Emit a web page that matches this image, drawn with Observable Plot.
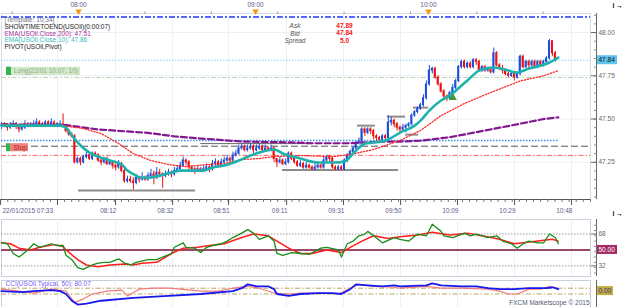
<!DOCTYPE html>
<html><head><meta charset="utf-8">
<script src="https://cdn.jsdelivr.net/npm/d3@7"></script>
<script src="https://cdn.jsdelivr.net/npm/@observablehq/plot@0.6"></script>
<style>
body{margin:0;background:#fff;}
#wrap{position:relative;width:625px;height:307px;overflow:hidden;background:#fff;}
#wrap > div{position:absolute;left:0;}
svg{display:block;}
</style></head>
<body><div id="wrap"><div id="main" style="top:0"></div><div id="osc" style="top:218px"></div><div id="cci" style="top:279px"></div></div>
<script>
// ---------- scales / ticks ----------
const xDomain = [0, 201];
const priceDomain = [47.035, 48.11];
const oscDomain = [20, 84.4];
const cciDomain = [-567, 367];

const bottomTicks = [-0.3, 19.1, 38.9, 58.4, 77.5, 97.3, 116.7, 136.2, 155.6, 175.1, 194.5];
const bottomLabels = ["22/01/2015 07:33", "", "08:12", "08:32", "08:51", "09:11", "09:31", "09:50", "10:09", "10:29", "10:48"];
const topTicks = [26.3, 86.7, 145.7];
const topLabels = ["08:00", "09:00", "10:00"];
const priceTicks = [47.25, 47.5, 47.75, 48.0];

// ---------- candles (1 minute) ----------
const firstOpen = 47.46;
const closes = [
 47.46,47.47,47.45,47.46,47.47,47.46,47.44,47.45,47.47,47.46,
 47.46,47.47,47.48,47.47,47.46,47.48,47.47,47.48,47.46,47.47,
 47.47,47.46,47.43,47.41,47.40,47.25,47.27,47.25,47.28,47.29,
 47.27,47.30,47.29,47.26,47.25,47.27,47.24,47.25,47.23,47.22,
 47.24,47.20,47.14,47.15,47.14,47.13,47.16,47.15,47.16,47.15,
 47.17,47.18,47.16,47.19,47.18,47.17,47.18,47.19,47.18,47.20,
 47.21,47.23,47.26,47.25,47.22,47.21,47.20,47.21,47.20,47.21,
 47.22,47.21,47.24,47.25,47.23,47.25,47.26,47.27,47.26,47.29,
 47.30,47.33,47.34,47.32,47.33,47.34,47.32,47.33,47.34,47.32,
 47.33,47.32,47.33,47.27,47.25,47.26,47.24,47.25,47.30,47.27,
 47.25,47.23,47.24,47.22,47.23,47.22,47.21,47.22,47.23,47.22,
 47.26,47.28,47.27,47.22,47.21,47.22,47.21,47.26,47.29,47.31,
 47.33,47.36,47.37,47.44,47.42,47.44,47.43,47.40,47.39,47.38,
 47.40,47.39,47.48,47.49,47.47,47.45,47.44,47.45,47.46,47.47,
 47.52,47.54,47.56,47.58,47.62,47.70,47.78,47.79,47.74,47.70,
 47.66,47.63,47.62,47.65,47.68,47.72,47.80,47.83,47.80,47.82,
 47.80,47.84,47.83,47.78,47.80,47.78,47.79,47.77,47.88,47.81,
 47.79,47.78,47.76,47.75,47.76,47.74,47.76,47.86,47.80,47.83,
 47.81,47.83,47.80,47.83,47.81,47.83,47.85,47.95,47.88,47.84];
const highs = [
 47.48,47.48,47.47,47.48,47.49,47.48,47.47,47.47,47.49,47.48,
 47.48,47.49,47.50,47.49,47.48,47.49,47.49,47.50,47.49,47.48,
 47.49,47.53,47.47,47.44,47.42,47.41,47.28,47.28,47.29,47.31,
 47.30,47.31,47.31,47.30,47.27,47.28,47.28,47.26,47.26,47.24,
 47.26,47.25,47.21,47.17,47.17,47.16,47.18,47.17,47.19,47.17,
 47.19,47.21,47.20,47.22,47.21,47.19,47.20,47.21,47.20,47.22,
 47.23,47.25,47.28,47.27,47.26,47.23,47.22,47.23,47.22,47.23,
 47.24,47.23,47.26,47.27,47.26,47.27,47.28,47.29,47.28,47.31,
 47.32,47.35,47.36,47.35,47.35,47.36,47.35,47.35,47.36,47.35,
 47.35,47.34,47.35,47.34,47.27,47.28,47.27,47.27,47.31,47.31,
 47.28,47.26,47.26,47.25,47.25,47.24,47.23,47.24,47.25,47.24,
 47.28,47.29,47.29,47.28,47.23,47.23,47.23,47.27,47.30,47.32,
 47.34,47.37,47.39,47.45,47.45,47.45,47.45,47.44,47.41,47.40,
 47.41,47.41,47.52,47.51,47.50,47.48,47.46,47.47,47.47,47.48,
 47.53,47.55,47.57,47.59,47.64,47.72,47.81,47.80,47.80,47.75,
 47.71,47.67,47.64,47.66,47.70,47.73,47.81,47.84,47.84,47.83,
 47.83,47.85,47.85,47.84,47.81,47.81,47.80,47.80,47.91,47.89,
 47.82,47.81,47.79,47.77,47.77,47.77,47.77,47.87,47.87,47.84,
 47.84,47.84,47.84,47.84,47.84,47.84,47.86,47.96,47.95,47.89];
const lows = [
 47.44,47.45,47.43,47.44,47.45,47.44,47.42,47.43,47.44,47.45,
 47.45,47.45,47.46,47.46,47.45,47.45,47.46,47.46,47.45,47.45,
 47.46,47.45,47.42,47.40,47.39,47.24,47.24,47.23,47.24,47.27,
 47.26,47.26,47.28,47.25,47.23,47.24,47.23,47.23,47.21,47.20,
 47.21,47.19,47.13,47.13,47.13,47.09,47.12,47.13,47.14,47.14,
 47.14,47.15,47.12,47.15,47.16,47.10,47.16,47.17,47.16,47.17,
 47.19,47.20,47.22,47.23,47.20,47.19,47.18,47.19,47.19,47.19,
 47.20,47.19,47.20,47.22,47.22,47.22,47.24,47.25,47.24,47.25,
 47.28,47.29,47.32,47.31,47.31,47.32,47.30,47.31,47.32,47.31,
 47.31,47.31,47.31,47.25,47.22,47.24,47.23,47.23,47.24,47.26,
 47.24,47.22,47.22,47.21,47.21,47.21,47.20,47.20,47.21,47.21,
 47.21,47.25,47.25,47.21,47.20,47.20,47.20,47.20,47.25,47.28,
 47.30,47.32,47.35,47.36,47.40,47.41,47.41,47.38,47.37,47.36,
 47.37,47.37,47.38,47.46,47.45,47.43,47.42,47.43,47.42,47.45,
 47.46,47.51,47.53,47.55,47.57,47.61,47.69,47.76,47.73,47.69,
 47.65,47.61,47.60,47.61,47.64,47.67,47.71,47.79,47.79,47.79,
 47.79,47.79,47.81,47.77,47.77,47.77,47.77,47.76,47.76,47.80,
 47.78,47.76,47.75,47.74,47.74,47.72,47.73,47.75,47.79,47.79,
 47.79,47.80,47.79,47.79,47.80,47.80,47.82,47.84,47.86,47.83];

// ---------- overlays: [minute index, price] ----------
const ema10 = [[0,47.462],[20,47.462],[22,47.451],[24,47.405],[27,47.347],[30,47.306],[34,47.277],[37,47.26],[41,47.237],[43,47.202],[46,47.173],[47,47.162],[51,47.162],[54,47.173],[58,47.191],[61,47.202],[66,47.202],[69,47.202],[72,47.22],[76,47.231],[81,47.26],[85,47.289],[88,47.306],[93,47.324],[96,47.301],[102,47.272],[108,47.249],[113,47.249],[117,47.254],[120,47.301],[124,47.358],[127,47.364],[132,47.382],[136,47.422],[141,47.462],[143,47.491],[146,47.549],[150,47.607],[153,47.636],[157,47.694],[159,47.723],[163,47.78],[168,47.798],[173,47.78],[176,47.769],[180,47.792],[184,47.809],[187,47.827],[190,47.855]];
const ema200 = [[0,47.47],[22,47.465],[33,47.44],[50,47.42],[59,47.40],[70,47.385],[82,47.37],[99,47.365],[106,47.36],[119,47.36],[130,47.37],[136,47.37],[143,47.375],[153,47.395],[170,47.45],[185,47.50],[190,47.51]];
const emaRed = [[0,47.47],[21,47.462],[28,47.445],[34,47.416],[40,47.358],[45,47.30],[51,47.26],[57,47.237],[63,47.225],[70,47.237],[76,47.243],[82,47.266],[88,47.272],[93,47.283],[102,47.289],[113,47.283],[119,47.295],[127,47.324],[136,47.376],[143,47.434],[150,47.52],[158,47.59],[165,47.64],[177,47.72],[185,47.75],[190,47.78]];

// horizontal levels
const levelTop = 48.09, levelPrice = 47.84, levelLong = 47.74, levelBlue = 47.376, levelPivot = 47.343, levelStop = 47.29;
const blueEnd = 190;
// grey support / resistance segments
const segStart = [26.3, 95.9, 121.5, 131.7, 137.9, 140.6, 68.0];
const segEnd   = [66.2, 135.5, 127.6, 137.9, 142.3, 145.8, 105.5];
const segPrice = [47.087, 47.206, 47.462, 47.514, 47.41, 47.566, 47.358];
const longMarker = [[154, 47.624]];

// ---------- oscillator (two lines) ----------
const oscFast = [[0,58],[2,57],[4,46],[6,42],[9,50],[11,57],[13,53],[17,57],[19,55],[21,55],[22,44],[24,39],[26,30],[28,28],[29,30],[31,33],[33,35],[35,36],[37,36],[40,40],[42,35],[44,33],[46,36],[50,39],[53,39],[55,42],[58,46],[59,53],[62,58],[63,53],[66,52],[68,47],[70,53],[72,55],[75,57],[77,60],[79,64],[82,69],[84,73],[86,69],[88,62],[91,66],[93,60],[94,46],[96,44],[99,47],[102,46],[105,45],[109,52],[111,53],[115,50],[116,42],[118,57],[120,60],[122,66],[124,68],[125,71],[127,66],[130,58],[134,64],[136,62],[139,60],[142,68],[145,66],[147,79],[150,71],[151,66],[154,64],[158,69],[160,66],[162,68],[166,64],[169,66],[171,60],[174,57],[176,52],[178,57],[180,60],[183,58],[185,58],[187,68],[189,64],[190,57]];
const oscSlow = [[0,58],[3,57],[6,52],[10,50],[13,53],[18,56],[21,54],[22,50],[26,39],[29,33],[33,31],[37,33],[42,34],[45,33],[48,35],[53,36],[58,46],[62,52],[67,53],[71,55],[76,57],[82,64],[86,68],[91,66],[94,60],[98,52],[102,46],[106,46],[111,50],[116,47],[119,53],[123,60],[127,66],[132,63],[136,65],[142,67],[147,70],[153,67],[159,69],[164,66],[170,62],[175,57],[178,58],[183,60],[188,62],[190,60]];

// ---------- CCI ----------
const cciMain = [[0,0],[7,-33],[11,0],[17,33],[20,0],[22,-100],[24,-333],[26,-467],[29,-433],[34,-333],[45,-233],[57,-167],[68,-100],[79,0],[82,100],[84,233],[87,167],[91,167],[93,67],[94,-100],[98,-167],[102,-100],[108,-67],[113,-67],[116,-100],[119,67],[121,233],[125,200],[130,167],[134,200],[136,167],[145,200],[147,267],[150,200],[157,167],[162,167],[166,100],[170,67],[175,67],[180,100],[186,100],[188,133],[190,67]];
const cciFast = [[0,67],[6,0],[11,-67],[17,67],[22,0],[25,-400],[28,-267],[31,-100],[36,0],[41,33],[43,-167],[47,67],[52,100],[57,100],[61,67],[68,0],[74,0],[79,100],[84,167],[88,100],[93,-67],[98,-100],[102,-67],[109,-67],[115,-100],[119,100],[122,233],[127,167],[134,133],[136,100],[145,167],[150,100],[157,100],[166,67],[170,0],[173,-100],[176,-100],[180,67],[184,67],[187,167],[190,100]];

// ---------- texts ----------
const legendLines = ["[Template: 10;34]", "SHOWTIMETOEND(USOil)(0:00:07)", "EMA(USOil.Close,200): 47.51", "EMA(USOil.Close,10): 47.86", "PIVOT(USOil,Pivot)"];
const legendColors = ["#6f6f80", "#1c1c1c", "#a8309a", "#35bcc0", "#1c1c1c"];
const quoteLabels = ["Ask", "Bid", "Spread"];
const quoteValues = ["47.89", "47.84", "5.0"];
const oscLevels = [68, 50, 32];
const cciLevels = [100, -100];

// ---------- build ----------
const up = "#1f4ed8", down = "#ec1212";
const candles = closes.map((c, i) => ({i, open: i ? closes[i - 1] : firstOpen, close: c, high: highs[i], low: lows[i]}));
const cColor = d => d.close >= d.open ? up : down;
const font = {fontFamily: "'Liberation Sans', Arial, sans-serif", fontSize: "6.5px", background: "#fff", overflow: "visible"};
const subTicks = (ticks, n) => { const s = ticks[1] - ticks[0]; const out = []; for (let t = ticks[0] - 3 * s; t <= xDomain[1]; t += s / n) if (t >= xDomain[0]) out.push(t); return out; };
const minorBottom = subTicks(bottomTicks, 8);
const minorTop = subTicks(topTicks, 8 / 3);
const minorPrice = d3.range(47.05, 48.11, 0.05);
const bottomFirst = bottomLabels.slice(0, 1), bottomRest = bottomLabels.slice(1);

const main = Plot.plot({
  width: 625, height: 218, marginLeft: 1, marginRight: 35, marginTop: 13, marginBottom: 19,
  x: {domain: xDomain, axis: null},
  y: {domain: priceDomain, axis: null},
  style: font,
  marks: [
    Plot.frame({stroke: "#d6dce6"}),
    Plot.ruleX(bottomTicks.slice(1), {stroke: "#eceff5"}),
    Plot.ruleY(priceTicks, {stroke: "#eceff5"}),
    // level lines
    Plot.ruleY([levelTop], {stroke: "#1b37ff", strokeWidth: 1.6, strokeDasharray: "6,2,2,2"}),
    Plot.ruleY([levelPrice], {stroke: "#7fd6f2", strokeWidth: 1, strokeDasharray: "1.5,1.5"}),
    Plot.ruleY([levelLong], {stroke: "#b9d7ae", strokeWidth: 1, strokeDasharray: "5,2,1.5,2"}),
    Plot.ruleY([levelBlue], {x1: () => xDomain[0], x2: () => blueEnd, stroke: "#3d8fe8", strokeWidth: 1.4, strokeDasharray: "1.5,1.5"}),
    Plot.ruleY([levelPivot], {stroke: "#555", strokeWidth: 1, strokeDasharray: "7,3"}),
    Plot.ruleY([levelStop], {stroke: "#ff6060", strokeWidth: 1, strokeDasharray: "5,2,1.5,2"}),
    // grey segments
    Plot.ruleY(segPrice, {x1: (d, i) => segStart[i], x2: (d, i) => segEnd[i], stroke: (d, i) => i === 6 ? "#666" : "#8c8c8c", strokeWidth: (d, i) => i === 6 ? 1 : 2}),
    // candles
    Plot.ruleX(candles, {x: "i", y1: "low", y2: "high", stroke: cColor, strokeWidth: 1}),
    Plot.rect(candles, {x1: "i", x2: "i", y1: "open", y2: "close", insetLeft: -1, insetRight: -1, insetTop: -0.5, insetBottom: -0.5, fill: cColor}),
    // moving averages
    Plot.line(ema200, {x: d => d[0], y: d => d[1], stroke: "#82178f", strokeWidth: 2.2, strokeDasharray: "6,3"}),
    Plot.line(emaRed, {x: d => d[0], y: d => d[1], stroke: "#ff2b2b", strokeWidth: 1.3, strokeDasharray: "1.3,1.7"}),
    Plot.line(ema10, {x: d => d[0], y: d => d[1], stroke: "#1db3ac", strokeWidth: 2.6, curve: "monotone-x"}),
    Plot.dot(longMarker, {x: d => d[0], y: d => d[1], symbol: "triangle", r: 3, fill: "#3d9b3a"}),
    // left labels (Long / Stop)
    Plot.rect([levelLong], {x1: () => xDomain[0], x2: () => xDomain[0], y1: d => d, y2: d => d, insetLeft: 10, insetRight: -79, insetTop: -10.3, insetBottom: 2, fill: "#d3e9cb"}),
    Plot.rect([levelLong], {x1: () => xDomain[0], x2: () => xDomain[0], y1: d => d, y2: d => d, insetLeft: 5, insetRight: -10, insetTop: -10.3, insetBottom: 2, fill: "#35b44a"}),
    Plot.text(["Long(22/01 10:07, 10)"], {x: () => xDomain[0], y: () => levelLong, dx: 12.5, dy: -6.2, textAnchor: "start", fill: "#93ae88"}),
    Plot.rect([levelStop], {x1: () => xDomain[0], x2: () => xDomain[0], y1: d => d, y2: d => d, insetLeft: 9, insetRight: -27, insetTop: -11.7, insetBottom: 3.7, fill: "#f08282"}),
    Plot.rect([levelStop], {x1: () => xDomain[0], x2: () => xDomain[0], y1: d => d, y2: d => d, insetLeft: 5, insetRight: -9, insetTop: -11.7, insetBottom: 3.7, fill: "#35b44a"}),
    Plot.text(["Stop"], {x: () => xDomain[0], y: () => levelStop, dx: 12, dy: -7.7, textAnchor: "start", fill: "#b02020"}),
    // legend
    ...legendLines.map((t, k) => Plot.text([t], {frameAnchor: "top-left", dx: 3, dy: 6.5 + k * 6.8, textAnchor: "start", lineAnchor: "middle", fill: legendColors[k]})),
    ...quoteLabels.map((t, k) => Plot.text([t], {frameAnchor: "top-left", dx: 293.5, dy: 12.5 + k * 7.5, textAnchor: "middle", lineAnchor: "middle", fill: "#555", fontStyle: "italic"})),
    ...quoteValues.map((t, k) => Plot.text([t], {frameAnchor: "top-left", dx: 343, dy: 12.3 + k * 7.5, textAnchor: "middle", lineAnchor: "middle", fill: "#ff1010", fontWeight: "bold"})),
    // top axis
    Plot.axisX({anchor: "top", ticks: minorTop, tickSize: 2.5, tickFormat: () => "", stroke: "#999"}),
    Plot.axisX({anchor: "top", ticks: topTicks, tickSize: 4, tickFormat: () => "", stroke: "#777"}),
    Plot.text(topLabels, {x: (d, i) => topTicks[i], frameAnchor: "top", dy: -8.5, lineAnchor: "middle", fill: "#5d5d8c"}),
    Plot.dot(topTicks, {x: d => d, frameAnchor: "top", dy: -2.2, symbol: "triangle", rotate: 180, r: 2.4, fill: "#f29b0c"}),
    // bottom axis
    Plot.ruleY([priceDomain[0]], {stroke: "#555"}),
    Plot.axisX({anchor: "bottom", ticks: minorBottom, tickSize: 3, tickFormat: () => "", stroke: "#777"}),
    Plot.axisX({anchor: "bottom", ticks: bottomTicks, tickSize: 6, tickFormat: () => "", stroke: "#555"}),
    Plot.text(bottomFirst, {x: () => xDomain[0], frameAnchor: "bottom", dy: 13, dx: 1, textAnchor: "start", fill: "#5d5d8c"}),
    Plot.text(bottomRest, {x: (d, i) => bottomTicks[i + 1], frameAnchor: "bottom", dy: 13, dx: 1, textAnchor: "end", fill: "#5d5d8c"}),
    // right price axis
    Plot.ruleX([xDomain[1]], {dx: 6, stroke: "#666"}),
    Plot.axisY({anchor: "right", ticks: minorPrice, tickSize: 3, dx: 3, tickFormat: () => "", stroke: "#888", label: null}),
    Plot.axisY({anchor: "right", ticks: priceTicks, tickSize: 6, tickFormat: () => "", stroke: "#666", label: null}),
    Plot.text(priceTicks, {x: () => xDomain[1], y: d => d, text: d => d.toFixed(2), dx: 8, textAnchor: "start", fill: "#666"}),
    Plot.rect([levelPrice], {x1: () => xDomain[1], x2: () => xDomain[1], y1: d => d, y2: d => d, insetLeft: 7, insetRight: -27, insetTop: -4.5, insetBottom: -4.5, fill: "#5ec4f0"}),
    Plot.text([levelPrice], {x: () => xDomain[1], y: d => d, text: d => d.toFixed(2), dx: 8, textAnchor: "start", fill: "#111"})
  ]
});
document.getElementById("main").append(main);

const osc = Plot.plot({
  width: 625, height: 59, marginLeft: 1, marginRight: 35, marginTop: 1, marginBottom: 1,
  x: {domain: xDomain, axis: null},
  y: {domain: oscDomain, axis: null},
  style: font,
  marks: [
    Plot.frame({stroke: "#c8d0dc"}),
    Plot.ruleX(bottomTicks.slice(1), {stroke: "#eceff5"}),
    Plot.ruleY([oscLevels[0], oscLevels[2]], {stroke: "#9a9a9a", strokeDasharray: "1.5,1.5"}),
    Plot.ruleY([oscLevels[1]], {stroke: "#7a0c36", strokeWidth: 1.6}),
    Plot.line(oscSlow, {x: d => d[0], y: d => d[1], stroke: "#ff1e1e", strokeWidth: 1.5}),
    Plot.line(oscFast, {x: d => d[0], y: d => d[1], stroke: "#1a8a1a", strokeWidth: 1.3}),
    Plot.ruleX([xDomain[1]], {dx: 6, stroke: "#666"}),
    Plot.axisY({anchor: "right", ticks: d3.range(24, 84, 6), tickSize: 3, dx: 3, tickFormat: () => "", stroke: "#888", label: null}),
    Plot.axisY({anchor: "right", ticks: [oscLevels[0], oscLevels[2]], tickSize: 6, tickFormat: () => "", stroke: "#666", label: null}),
    Plot.text([oscLevels[0], oscLevels[2]], {x: () => xDomain[1], y: d => d, text: d => String(d), dx: 8, textAnchor: "start", fill: "#666"}),
    Plot.rect([oscLevels[1]], {x1: () => xDomain[1], x2: () => xDomain[1], y1: d => d, y2: d => d, insetLeft: 7, insetRight: -27, insetTop: -4.5, insetBottom: -4.5, fill: "#a32a63"}),
    Plot.text([oscLevels[1]], {x: () => xDomain[1], y: d => d, text: d => d.toFixed(2), dx: 8, textAnchor: "start", fill: "#fff"})
  ]
});
document.getElementById("osc").append(osc);

const cci = Plot.plot({
  width: 625, height: 28, marginLeft: 1, marginRight: 35, marginTop: 1, marginBottom: 0,
  x: {domain: xDomain, axis: null},
  y: {domain: cciDomain, axis: null},
  style: font,
  marks: [
    Plot.frame({stroke: "#c8d0dc"}),
    Plot.ruleX(bottomTicks.slice(1), {stroke: "#eceff5"}),
    Plot.ruleY(cciLevels, {stroke: "#b7a863", strokeDasharray: "5,2,1.5,2"}),
    Plot.line(cciFast, {x: d => d[0], y: d => d[1], stroke: "#f37b7b", strokeWidth: 1.2}),
    Plot.line(cciMain, {x: d => d[0], y: d => d[1], stroke: "#1717f0", strokeWidth: 1.8}),
    Plot.text(["CCI(USOil.Typical, 50): 80.07"], {frameAnchor: "top-left", dx: 4, dy: 3, textAnchor: "start", lineAnchor: "middle", fill: "#7b5cff"}),
    Plot.text(["FXCM Marketscope © 2015"], {frameAnchor: "bottom-right", dx: -1, dy: -4.5, textAnchor: "end", lineAnchor: "middle", fill: "#555a70"}),
    Plot.ruleX([xDomain[1]], {dx: 6, stroke: "#666"}),
    Plot.rect([0], {x1: () => xDomain[1], x2: () => xDomain[1], y1: d => d, y2: d => d, insetLeft: 7, insetRight: -23, insetTop: -4.5, insetBottom: -4.5, fill: "#bfae3c"}),
    Plot.text([0], {x: () => xDomain[1], y: d => d, text: d => d.toFixed(2), dx: 8, textAnchor: "start", fill: "#4b2a9a"})
  ]
});
document.getElementById("cci").append(cci);
</script>
</body></html>
